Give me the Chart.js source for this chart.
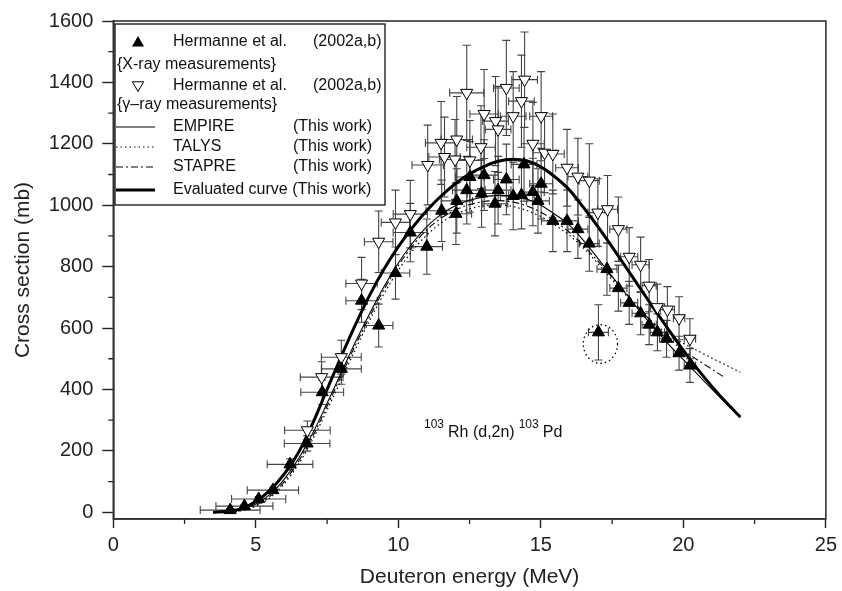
<!DOCTYPE html>
<html><head><meta charset="utf-8">
<script src="https://cdn.jsdelivr.net/npm/chart.js@4.4.1/dist/chart.umd.min.js"></script>
<style>html,body{margin:0;padding:0;background:#fff;}</style>
</head><body>
<canvas id="c" width="842" height="591"></canvas>
<script>
// ---------- data ----------
const xrayE  = [4.1,4.6,5.1,5.6,6.2,6.8,7.33,8.0,8.71,9.31,9.9,10.42,11.0,11.52,12.02,12.05,12.4,12.51,12.92,13.01,13.39,13.5,13.79,14.03,14.32,14.41,14.72,14.9,15.01,15.42,15.92,16.3,16.7,17.02,17.32,17.72,18.1,18.5,18.8,19.09,19.41,19.85,20.23];
const xrayCS = [7,20,43,72,156,224,391,467,689,608,779,911,865,982,972,1014,1049,1092,1038,1098,1005,1049,1084,1030,1033,1133,1043,1014,1070,949,949,922,875,586,792,730,682,648,611,586,565,518,478];
const xrayErrCS = [5,5,8,10,18,25,40,50,70,70,85,95,90,100,100,105,110,115,110,115,105,110,115,110,110,120,110,105,115,100,100,95,90,90,85,75,70,70,65,60,60,55,55];
const xrayErrE  = [1.05,1.0,0.95,0.9,0.8,0.8,0.75,0.7,0.55,0.5,0.5,0.6,0.55,0.55,0.55,0.55,0.5,0.5,0.5,0.5,0.45,0.45,0.45,0.45,0.45,0.45,0.4,0.4,0.4,0.4,0.4,0.35,0.35,0.35,0.35,0.3,0.3,0.3,0.25,0.25,0.25,0.2,0.2];

const gammaE  = [6.81,7.31,8.0,8.71,9.31,9.9,10.42,11.03,11.5,11.62,11.99,12.05,12.4,12.51,12.9,13.01,13.41,13.5,13.79,14.03,14.32,14.43,14.72,15.01,15.13,15.42,15.92,16.3,16.7,17.0,17.34,17.72,18.1,18.5,18.8,19.09,19.44,19.85,20.23];
const gammaCS = [267,440,505,745,881,944,971,1131,1203,1157,1149,1214,1366,1146,1189,1297,1274,1247,1382,1290,1339,1409,1200,1290,1171,1167,1122,1093,1080,976,987,922,832,806,738,668,660,632,565];
const gammaErrCS = [30,50,55,85,100,105,110,130,135,130,130,140,155,130,135,145,145,140,155,145,150,155,135,145,130,130,125,125,120,110,110,105,95,90,85,75,75,70,65];
const gammaErrE  = [0.8,0.75,0.7,0.55,0.5,0.5,0.6,0.55,0.55,0.55,0.55,0.55,0.6,0.5,0.5,0.5,0.45,0.45,0.45,0.45,0.45,0.45,0.4,0.4,0.4,0.4,0.4,0.35,0.35,0.35,0.35,0.3,0.3,0.3,0.25,0.25,0.25,0.2,0.2];

const curveE    = [3.5,4,4.5,5,5.5,6,6.5,7,7.5,8,8.5,9,9.5,10,10.5,11,11.5,12,12.5,13,13.5,14,14.5,15,15.5,16,16.5,17,17.5,18,18.5,19,19.5,20,20.5,21,21.5,22];
const empireCS  = [0,2,9,27,58,108,175,258,355,455,555,648,735,812,877,930,970,998,1016,1027,1032,1030,1020,1000,970,935,885,827,768,710,652,597,545,497,449,401,354,308];
const talysCS   = [0,0,5,20,47,93,157,238,333,432,532,626,712,788,852,903,942,970,988,998,1001,996,983,963,935,902,860,810,758,705,656,613,578,550,526,502,479,456];
const evalCS    = [0,3,12,35,72,125,195,290,400,508,612,708,792,865,928,983,1030,1070,1102,1126,1143,1150,1145,1125,1092,1050,992,930,864,796,727,659,592,527,466,410,358,310];
const stapreE   = [3.5,4,4.5,5,5.5,6,6.5,7,7.5,8,8.5,9,9.5,10,10.5,11,11.5,12,12.5,13,13.5,14,14.5,15,15.5,16,16.5,17,17.5,18,18.5,19,19.5,20,20.5,21,21.4];
const stapreCS  = [0,1,6,23,52,100,166,248,345,445,545,638,726,803,868,920,958,984,1002,1012,1015,1011,998,977,948,912,868,818,765,712,660,610,565,527,496,466,442];

const xTicks = [0,5,10,15,20,25];
const xMinorTicks = [2.5,7.5,12.5,17.5,22.5];
const yTicks = [0,200,400,600,800,1000,1200,1400,1600];
const yMinorTicks = [100,300,500,700,900,1100,1300,1500];

const legendRows = [
  {kind:'filled', text:'Hermanne et al.', ref:'(2002a,b)'},
  {kind:'note',   text:'{X-ray measurements}'},
  {kind:'open',   text:'Hermanne et al.', ref:'(2002a,b)'},
  {kind:'note',   text:'{\u03B3\u2013ray measurements}'},
  {kind:'empire', text:'EMPIRE', ref:'(This work)'},
  {kind:'talys',  text:'TALYS', ref:'(This work)'},
  {kind:'stapre', text:'STAPRE', ref:'(This work)'},
  {kind:'eval',   text:'Evaluated curve (This work)'}
];
const outlier = {E:17.09, CS:548, rE:0.6, rCS:63};
const reaction = {E:10.9, CS:244};

const FONT = '"Liberation Sans", Arial, Helvetica, sans-serif';
const pts = (E,C)=>E.map((e,i)=>({x:e,y:C[i]}));

// ---------- plugins ----------
const errorBars = {
  id:'errorBars',
  beforeDatasetsDraw(chart){
    const {ctx, scales:{x,y}} = chart;
    ctx.save();
    ctx.strokeStyle='#444'; ctx.lineWidth=1.1;
    const draw=(E,C,dE,dC)=>{
      for(let i=0;i<E.length;i++){
        const px=x.getPixelForValue(E[i]), py=y.getPixelForValue(C[i]);
        const x1=x.getPixelForValue(E[i]-dE[i]), x2=x.getPixelForValue(E[i]+dE[i]);
        const y1=y.getPixelForValue(C[i]-dC[i]), y2=y.getPixelForValue(C[i]+dC[i]);
        const c=4;
        ctx.beginPath();
        ctx.moveTo(px,y1);ctx.lineTo(px,y2);
        ctx.moveTo(px-c,y1);ctx.lineTo(px+c,y1);
        ctx.moveTo(px-c,y2);ctx.lineTo(px+c,y2);
        ctx.moveTo(x1,py);ctx.lineTo(x2,py);
        ctx.moveTo(x1,py-c);ctx.lineTo(x1,py+c);
        ctx.moveTo(x2,py-c);ctx.lineTo(x2,py+c);
        ctx.stroke();
      }
    };
    draw(gammaE,gammaCS,gammaErrE,gammaErrCS);
    draw(xrayE,xrayCS,xrayErrE,xrayErrCS);
    ctx.restore();
  }
};

function tri(ctx,cx,cy,r,down,filled){
  const s=down?-1:1;
  ctx.beginPath();
  ctx.moveTo(cx, cy - s*r);
  ctx.lineTo(cx + r*Math.sqrt(3)/2, cy + s*r/2);
  ctx.lineTo(cx - r*Math.sqrt(3)/2, cy + s*r/2);
  ctx.closePath();
  if(filled){ctx.fillStyle='#000';ctx.fill();}
  else {ctx.fillStyle='#fff';ctx.fill();ctx.strokeStyle='#000';ctx.lineWidth=1;ctx.stroke();}
}

const decorations = {
  id:'decorations',
  afterDraw(chart){
    const {ctx, chartArea:a, scales:{x,y}} = chart;
    ctx.save();
    // minor ticks
    ctx.strokeStyle='#222'; ctx.lineWidth=1.3;
    ctx.beginPath();
    xMinorTicks.forEach(v=>{const p=x.getPixelForValue(v);ctx.moveTo(p,a.bottom);ctx.lineTo(p,a.bottom+5);});
    yMinorTicks.forEach(v=>{const p=y.getPixelForValue(v);ctx.moveTo(a.left,p);ctx.lineTo(a.left-5,p);});
    ctx.stroke();
    // frame
    ctx.strokeStyle='#333'; ctx.lineWidth=1.6;
    ctx.strokeRect(a.left, a.top, a.right-a.left, a.bottom-a.top);

    // outlier ellipse
    const ex=x.getPixelForValue(outlier.E), ey=y.getPixelForValue(outlier.CS);
    const rx=x.getPixelForValue(outlier.E+outlier.rE)-ex, ry=ey-y.getPixelForValue(outlier.CS+outlier.rCS);
    ctx.setLineDash([1.5,3]); ctx.lineWidth=1.3; ctx.strokeStyle='#000';
    ctx.beginPath(); ctx.ellipse(ex,ey,rx,ry,0,0,Math.PI*2); ctx.stroke();
    ctx.setLineDash([]);

    // reaction label
    const rx0=x.getPixelForValue(reaction.E), ry0=y.getPixelForValue(reaction.CS);
    ctx.fillStyle='#111'; ctx.textBaseline='alphabetic'; ctx.textAlign='left';
    let cx=rx0;
    ctx.font='12px '+FONT; ctx.fillText('103',cx,ry0-9); cx+=ctx.measureText('103').width+4;
    ctx.font='16px '+FONT; ctx.fillText('Rh (d,2n)',cx,ry0); cx+=ctx.measureText('Rh (d,2n)').width+4;
    ctx.font='12px '+FONT; ctx.fillText('103',cx,ry0-9); cx+=ctx.measureText('103').width+4;
    ctx.font='16px '+FONT; ctx.fillText('Pd',cx,ry0);

    // legend
    const L=115, T=24, W=270, H=181;
    ctx.fillStyle='#fff'; ctx.fillRect(L,T,W,H);
    ctx.strokeStyle='#222'; ctx.lineWidth=1.4; ctx.strokeRect(L,T,W,H);
    const rowY=[42,65,86,105,127,147,167,190];
    ctx.font='16px '+FONT; ctx.textBaseline='middle'; ctx.fillStyle='#111';
    legendRows.forEach((r,i)=>{
      const yy=rowY[i];
      if(r.kind==='note'){ctx.fillStyle='#111';ctx.fillText(r.text,L+2,yy);return;}
      if(r.kind==='filled') tri(ctx,138,yy+1,7,false,true);
      if(r.kind==='open') tri(ctx,138,yy-1,6.5,true,false);
      if(['empire','talys','stapre','eval'].includes(r.kind)){
        ctx.strokeStyle='#000';
        ctx.lineWidth = r.kind==='eval'?3:1.1;
        ctx.setLineDash(r.kind==='talys'?[1.5,3]:r.kind==='stapre'?[7,3,2,3]:[]);
        ctx.beginPath(); ctx.moveTo(L+1,yy); ctx.lineTo(L+40,yy); ctx.stroke();
        ctx.setLineDash([]);
      }
      ctx.fillStyle='#111';
      ctx.fillText(r.text,173,yy);
      if(r.ref){ ctx.fillText(r.ref, r.kind==='filled'||r.kind==='open'?313:293, yy); }
    });
    ctx.restore();
  }
};

// ---------- chart ----------
const lineDS=(label,E,C,w,dash)=>({type:'line',label,data:pts(E,C),borderColor:'#000',borderWidth:w,borderDash:dash,pointRadius:0,fill:false,tension:0.4,cubicInterpolationMode:'monotone'});

new Chart(document.getElementById('c'),{
  data:{datasets:[
    {type:'scatter',label:'Hermanne et al. (2002a,b) X-ray',data:pts(xrayE,xrayCS),pointStyle:'triangle',pointRadius:7,backgroundColor:'#000',borderColor:'#000',borderWidth:1},
    {type:'scatter',label:'Hermanne et al. (2002a,b) gamma-ray',data:pts(gammaE,gammaCS),pointStyle:'triangle',rotation:180,pointRadius:7,backgroundColor:'#fff',borderColor:'#000',borderWidth:1},
    lineDS('Evaluated curve',curveE,evalCS,3,[]),
    lineDS('EMPIRE',curveE,empireCS,1.1,[]),
    lineDS('TALYS',curveE,talysCS,1.2,[1.5,3]),
    lineDS('STAPRE',stapreE,stapreCS,1.1,[7,3,2,3])
  ]},
  options:{
    responsive:false, animation:false, devicePixelRatio:1,
    layout:{padding:{left:0,top:19.5,right:12.7,bottom:0}},
    plugins:{legend:{display:false},tooltip:{enabled:false}},
    scales:{
      x:{type:'linear',position:'bottom',min:0,max:25,
        afterBuildTicks:s=>{s.ticks=xTicks.map(v=>({value:v}));},
        afterFit:s=>{s.height=72;},
        ticks:{font:{family:FONT,size:20},color:'#222',padding:5,callback:v=>String(v)},
        grid:{drawOnChartArea:false,drawTicks:true,tickLength:9,color:'#222',tickWidth:1.4},
        border:{color:'#222',width:1.6},
        title:{display:true,text:'Deuteron energy (MeV)',font:{family:FONT,size:21},color:'#222',padding:{top:0,bottom:1}}},
      y:{type:'linear',min:-22,max:1600,
        afterBuildTicks:s=>{s.ticks=yTicks.map(v=>({value:v}));},
        afterFit:s=>{s.width=113.3;},
        ticks:{font:{family:FONT,size:20},color:'#222',padding:9,callback:v=>String(v)},
        grid:{drawOnChartArea:false,drawTicks:true,tickLength:11,color:'#222',tickWidth:1.4},
        border:{color:'#222',width:1.6},
        title:{display:true,text:'Cross section (mb)',font:{family:FONT,size:21},color:'#222',padding:{top:11,bottom:0}}}
    }
  },
  plugins:[errorBars,decorations]
});
</script>
</body></html>
